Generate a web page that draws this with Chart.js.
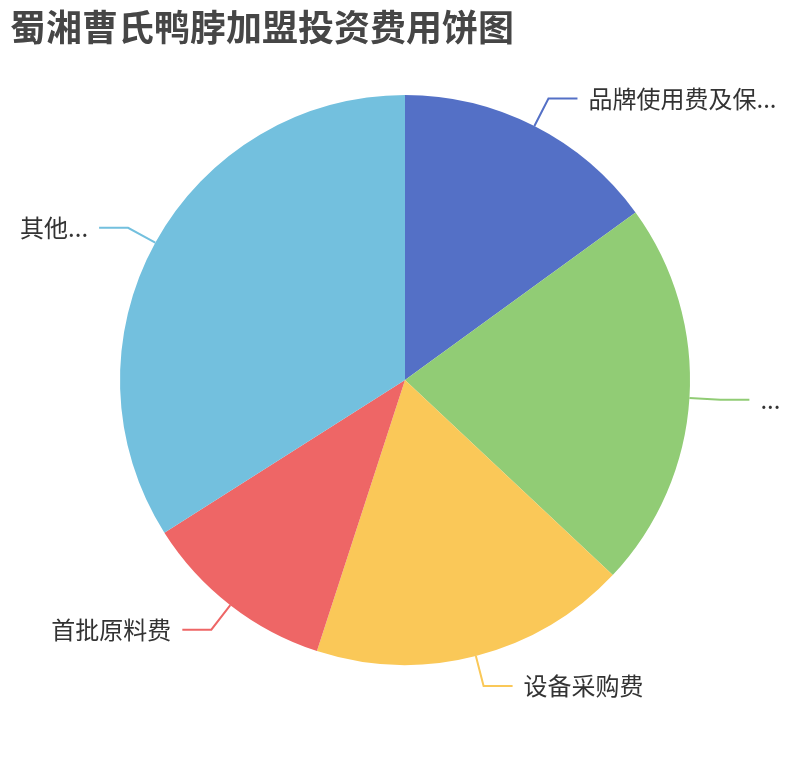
<!DOCTYPE html>
<html>
<head>
<meta charset="utf-8">
<script src="https://cdn.jsdelivr.net/npm/chart.js@4"></script>
<style>
html,body{margin:0;padding:0;background:#fff;}
#wrap{width:810px;height:760px;position:relative;}
</style>
</head>
<body>
<div id="wrap"><canvas id="c" width="810" height="760"></canvas></div>
<script>
const titleText = '蜀湘曹氏鸭脖加盟投资费用饼图';
const categories = ['品牌使用费及保...', '...', '设备采购费', '首批原料费', '其他...'];
const values = [15, 22, 18, 11, 34];
const colors = ['#5470c6', '#91cc75', '#fac858', '#ee6666', '#73c0de'];

const FONT = '"Noto Sans CJK SC", "Noto Sans", sans-serif';

const labelPlugin = {
  id: 'outLabels',
  afterDatasetsDraw(chart) {
    const ctx = chart.ctx;
    const meta = chart.getDatasetMeta(0);
    const len1 = 31, len2 = 29, gap = 11;
    ctx.save();
    meta.data.forEach((arc, i) => {
      const p = arc.getProps(['x','y','startAngle','endAngle','outerRadius'], true);
      const mid = (p.startAngle + p.endAngle) / 2;
      const c = Math.cos(mid), s = Math.sin(mid);
      const x0 = p.x + p.outerRadius * c, y0 = p.y + p.outerRadius * s;
      const x1 = p.x + (p.outerRadius + len1) * c, y1 = p.y + (p.outerRadius + len1) * s;
      const dir = c >= 0 ? 1 : -1;
      const x2 = x1 + dir * len2;
      ctx.beginPath();
      ctx.moveTo(x0, y0);
      ctx.lineTo(x1, y1);
      ctx.lineTo(x2, y1);
      ctx.strokeStyle = colors[i];
      ctx.lineWidth = 2;
      ctx.stroke();
      ctx.font = '24px ' + FONT;
      ctx.fillStyle = '#333333';
      ctx.textBaseline = 'middle';
      ctx.textAlign = dir > 0 ? 'left' : 'right';
      ctx.fillText(categories[i], x2 + dir * gap, y1);
    });
    ctx.font = 'bold 36px ' + FONT;
    ctx.fillStyle = '#464646';
    ctx.textAlign = 'left';
    ctx.textBaseline = 'middle';
    ctx.fillText(titleText, 10, 27);
    ctx.restore();
  }
};

new Chart(document.getElementById('c'), {
  type: 'pie',
  data: {
    labels: categories,
    datasets: [{
      data: values,
      backgroundColor: colors,
      borderWidth: 0,
      hoverOffset: 0
    }]
  },
  options: {
    responsive: false,
    animation: false,
    devicePixelRatio: 1,
    layout: { padding: { left: 120, right: 120, top: 95, bottom: 95 } },
    plugins: {
      legend: { display: false },
      title: { display: false },
      tooltip: { enabled: false }
    }
  },
  plugins: [labelPlugin]
});
</script>
</body>
</html>
